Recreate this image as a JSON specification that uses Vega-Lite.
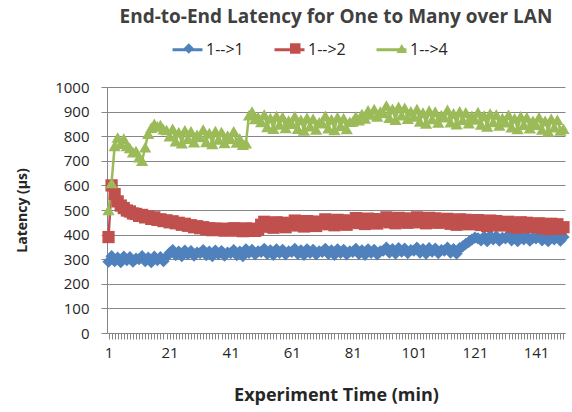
{
  "$schema": "https://vega.github.io/schema/vega-lite/v6.json",
  "width": 458,
  "height": 246,
  "autosize": "none",
  "padding": {"left": 107, "top": 87, "right": 7, "bottom": 79},
  "background": "white",
  "title": {"text": "End-to-End  Latency for One to Many  over LAN", "anchor": "middle", "frame": "group", "offset": 6, "font": "Open Sans", "fontSize": 19, "fontWeight": "bold", "color": "#404040"},
  "config": {"view": {"stroke": null}},
  "data": {"values": [
{"minute":1,"series":"1-->1","latency":290},{"minute":2,"series":"1-->1","latency":312},{"minute":3,"series":"1-->1","latency":292},{"minute":4,"series":"1-->1","latency":306},{"minute":5,"series":"1-->1","latency":288},{"minute":6,"series":"1-->1","latency":310},{"minute":7,"series":"1-->1","latency":296},{"minute":8,"series":"1-->1","latency":308},{"minute":9,"series":"1-->1","latency":290},{"minute":10,"series":"1-->1","latency":302},
{"minute":11,"series":"1-->1","latency":300},{"minute":12,"series":"1-->1","latency":312},{"minute":13,"series":"1-->1","latency":292},{"minute":14,"series":"1-->1","latency":306},{"minute":15,"series":"1-->1","latency":288},{"minute":16,"series":"1-->1","latency":310},{"minute":17,"series":"1-->1","latency":296},{"minute":18,"series":"1-->1","latency":308},{"minute":19,"series":"1-->1","latency":292},{"minute":20,"series":"1-->1","latency":310},
{"minute":21,"series":"1-->1","latency":325},{"minute":22,"series":"1-->1","latency":337},{"minute":23,"series":"1-->1","latency":317},{"minute":24,"series":"1-->1","latency":331},{"minute":25,"series":"1-->1","latency":313},{"minute":26,"series":"1-->1","latency":335},{"minute":27,"series":"1-->1","latency":321},{"minute":28,"series":"1-->1","latency":333},{"minute":29,"series":"1-->1","latency":315},{"minute":30,"series":"1-->1","latency":327},
{"minute":31,"series":"1-->1","latency":325},{"minute":32,"series":"1-->1","latency":337},{"minute":33,"series":"1-->1","latency":317},{"minute":34,"series":"1-->1","latency":331},{"minute":35,"series":"1-->1","latency":313},{"minute":36,"series":"1-->1","latency":335},{"minute":37,"series":"1-->1","latency":321},{"minute":38,"series":"1-->1","latency":333},{"minute":39,"series":"1-->1","latency":315},{"minute":40,"series":"1-->1","latency":327},
{"minute":41,"series":"1-->1","latency":325},{"minute":42,"series":"1-->1","latency":337},{"minute":43,"series":"1-->1","latency":317},{"minute":44,"series":"1-->1","latency":331},{"minute":45,"series":"1-->1","latency":313},{"minute":46,"series":"1-->1","latency":340},{"minute":47,"series":"1-->1","latency":326},{"minute":48,"series":"1-->1","latency":338},{"minute":49,"series":"1-->1","latency":320},{"minute":50,"series":"1-->1","latency":332},
{"minute":51,"series":"1-->1","latency":330},{"minute":52,"series":"1-->1","latency":342},{"minute":53,"series":"1-->1","latency":322},{"minute":54,"series":"1-->1","latency":336},{"minute":55,"series":"1-->1","latency":318},{"minute":56,"series":"1-->1","latency":340},{"minute":57,"series":"1-->1","latency":326},{"minute":58,"series":"1-->1","latency":338},{"minute":59,"series":"1-->1","latency":320},{"minute":60,"series":"1-->1","latency":332},
{"minute":61,"series":"1-->1","latency":330},{"minute":62,"series":"1-->1","latency":342},{"minute":63,"series":"1-->1","latency":322},{"minute":64,"series":"1-->1","latency":336},{"minute":65,"series":"1-->1","latency":318},{"minute":66,"series":"1-->1","latency":340},{"minute":67,"series":"1-->1","latency":326},{"minute":68,"series":"1-->1","latency":338},{"minute":69,"series":"1-->1","latency":320},{"minute":70,"series":"1-->1","latency":332},
{"minute":71,"series":"1-->1","latency":330},{"minute":72,"series":"1-->1","latency":342},{"minute":73,"series":"1-->1","latency":322},{"minute":74,"series":"1-->1","latency":336},{"minute":75,"series":"1-->1","latency":318},{"minute":76,"series":"1-->1","latency":340},{"minute":77,"series":"1-->1","latency":326},{"minute":78,"series":"1-->1","latency":338},{"minute":79,"series":"1-->1","latency":320},{"minute":80,"series":"1-->1","latency":332},
{"minute":81,"series":"1-->1","latency":330},{"minute":82,"series":"1-->1","latency":342},{"minute":83,"series":"1-->1","latency":322},{"minute":84,"series":"1-->1","latency":336},{"minute":85,"series":"1-->1","latency":318},{"minute":86,"series":"1-->1","latency":340},{"minute":87,"series":"1-->1","latency":326},{"minute":88,"series":"1-->1","latency":338},{"minute":89,"series":"1-->1","latency":320},{"minute":90,"series":"1-->1","latency":332},
{"minute":91,"series":"1-->1","latency":335},{"minute":92,"series":"1-->1","latency":347},{"minute":93,"series":"1-->1","latency":327},{"minute":94,"series":"1-->1","latency":341},{"minute":95,"series":"1-->1","latency":323},{"minute":96,"series":"1-->1","latency":345},{"minute":97,"series":"1-->1","latency":331},{"minute":98,"series":"1-->1","latency":343},{"minute":99,"series":"1-->1","latency":325},{"minute":100,"series":"1-->1","latency":337},
{"minute":101,"series":"1-->1","latency":335},{"minute":102,"series":"1-->1","latency":347},{"minute":103,"series":"1-->1","latency":327},{"minute":104,"series":"1-->1","latency":341},{"minute":105,"series":"1-->1","latency":323},{"minute":106,"series":"1-->1","latency":345},{"minute":107,"series":"1-->1","latency":331},{"minute":108,"series":"1-->1","latency":343},{"minute":109,"series":"1-->1","latency":325},{"minute":110,"series":"1-->1","latency":337},
{"minute":111,"series":"1-->1","latency":335},{"minute":112,"series":"1-->1","latency":347},{"minute":113,"series":"1-->1","latency":327},{"minute":114,"series":"1-->1","latency":341},{"minute":115,"series":"1-->1","latency":323},{"minute":116,"series":"1-->1","latency":345},{"minute":117,"series":"1-->1","latency":352},{"minute":118,"series":"1-->1","latency":362},{"minute":119,"series":"1-->1","latency":370},{"minute":120,"series":"1-->1","latency":380},
{"minute":121,"series":"1-->1","latency":388},{"minute":122,"series":"1-->1","latency":385},{"minute":123,"series":"1-->1","latency":377},{"minute":124,"series":"1-->1","latency":391},{"minute":125,"series":"1-->1","latency":373},{"minute":126,"series":"1-->1","latency":395},{"minute":127,"series":"1-->1","latency":381},{"minute":128,"series":"1-->1","latency":393},{"minute":129,"series":"1-->1","latency":375},{"minute":130,"series":"1-->1","latency":387},
{"minute":131,"series":"1-->1","latency":385},{"minute":132,"series":"1-->1","latency":397},{"minute":133,"series":"1-->1","latency":377},{"minute":134,"series":"1-->1","latency":391},{"minute":135,"series":"1-->1","latency":373},{"minute":136,"series":"1-->1","latency":395},{"minute":137,"series":"1-->1","latency":381},{"minute":138,"series":"1-->1","latency":393},{"minute":139,"series":"1-->1","latency":375},{"minute":140,"series":"1-->1","latency":387},
{"minute":141,"series":"1-->1","latency":385},{"minute":142,"series":"1-->1","latency":397},{"minute":143,"series":"1-->1","latency":377},{"minute":144,"series":"1-->1","latency":391},{"minute":145,"series":"1-->1","latency":373},{"minute":146,"series":"1-->1","latency":395},{"minute":147,"series":"1-->1","latency":381},{"minute":148,"series":"1-->1","latency":393},{"minute":149,"series":"1-->1","latency":375},{"minute":150,"series":"1-->1","latency":390},
{"minute":1,"series":"1-->2","latency":390},{"minute":2,"series":"1-->2","latency":600},{"minute":3,"series":"1-->2","latency":565},{"minute":4,"series":"1-->2","latency":535},{"minute":5,"series":"1-->2","latency":518},{"minute":6,"series":"1-->2","latency":508},{"minute":7,"series":"1-->2","latency":498},{"minute":8,"series":"1-->2","latency":494},{"minute":9,"series":"1-->2","latency":486},{"minute":10,"series":"1-->2","latency":484},
{"minute":11,"series":"1-->2","latency":476},{"minute":12,"series":"1-->2","latency":480},{"minute":13,"series":"1-->2","latency":470},{"minute":14,"series":"1-->2","latency":474},{"minute":15,"series":"1-->2","latency":464},{"minute":16,"series":"1-->2","latency":470},{"minute":17,"series":"1-->2","latency":460},{"minute":18,"series":"1-->2","latency":462},{"minute":19,"series":"1-->2","latency":455},{"minute":20,"series":"1-->2","latency":458},
{"minute":21,"series":"1-->2","latency":450},{"minute":22,"series":"1-->2","latency":454},{"minute":23,"series":"1-->2","latency":446},{"minute":24,"series":"1-->2","latency":448},{"minute":25,"series":"1-->2","latency":440},{"minute":26,"series":"1-->2","latency":444},{"minute":27,"series":"1-->2","latency":436},{"minute":28,"series":"1-->2","latency":438},{"minute":29,"series":"1-->2","latency":430},{"minute":30,"series":"1-->2","latency":434},
{"minute":31,"series":"1-->2","latency":426},{"minute":32,"series":"1-->2","latency":430},{"minute":33,"series":"1-->2","latency":422},{"minute":34,"series":"1-->2","latency":426},{"minute":35,"series":"1-->2","latency":418},{"minute":36,"series":"1-->2","latency":424},{"minute":37,"series":"1-->2","latency":420},{"minute":38,"series":"1-->2","latency":424},{"minute":39,"series":"1-->2","latency":416},{"minute":40,"series":"1-->2","latency":422},
{"minute":41,"series":"1-->2","latency":420},{"minute":42,"series":"1-->2","latency":426},{"minute":43,"series":"1-->2","latency":416},{"minute":44,"series":"1-->2","latency":423},{"minute":45,"series":"1-->2","latency":414},{"minute":46,"series":"1-->2","latency":425},{"minute":47,"series":"1-->2","latency":418},{"minute":48,"series":"1-->2","latency":424},{"minute":49,"series":"1-->2","latency":415},{"minute":50,"series":"1-->2","latency":421},
{"minute":51,"series":"1-->2","latency":440},{"minute":52,"series":"1-->2","latency":452},{"minute":53,"series":"1-->2","latency":432},{"minute":54,"series":"1-->2","latency":446},{"minute":55,"series":"1-->2","latency":428},{"minute":56,"series":"1-->2","latency":450},{"minute":57,"series":"1-->2","latency":436},{"minute":58,"series":"1-->2","latency":448},{"minute":59,"series":"1-->2","latency":430},{"minute":60,"series":"1-->2","latency":442},
{"minute":61,"series":"1-->2","latency":445},{"minute":62,"series":"1-->2","latency":457},{"minute":63,"series":"1-->2","latency":437},{"minute":64,"series":"1-->2","latency":451},{"minute":65,"series":"1-->2","latency":433},{"minute":66,"series":"1-->2","latency":455},{"minute":67,"series":"1-->2","latency":441},{"minute":68,"series":"1-->2","latency":453},{"minute":69,"series":"1-->2","latency":435},{"minute":70,"series":"1-->2","latency":447},
{"minute":71,"series":"1-->2","latency":450},{"minute":72,"series":"1-->2","latency":462},{"minute":73,"series":"1-->2","latency":442},{"minute":74,"series":"1-->2","latency":456},{"minute":75,"series":"1-->2","latency":438},{"minute":76,"series":"1-->2","latency":460},{"minute":77,"series":"1-->2","latency":446},{"minute":78,"series":"1-->2","latency":458},{"minute":79,"series":"1-->2","latency":440},{"minute":80,"series":"1-->2","latency":452},
{"minute":81,"series":"1-->2","latency":455},{"minute":82,"series":"1-->2","latency":467},{"minute":83,"series":"1-->2","latency":447},{"minute":84,"series":"1-->2","latency":461},{"minute":85,"series":"1-->2","latency":443},{"minute":86,"series":"1-->2","latency":465},{"minute":87,"series":"1-->2","latency":451},{"minute":88,"series":"1-->2","latency":463},{"minute":89,"series":"1-->2","latency":445},{"minute":90,"series":"1-->2","latency":457},
{"minute":91,"series":"1-->2","latency":458},{"minute":92,"series":"1-->2","latency":470},{"minute":93,"series":"1-->2","latency":450},{"minute":94,"series":"1-->2","latency":464},{"minute":95,"series":"1-->2","latency":446},{"minute":96,"series":"1-->2","latency":468},{"minute":97,"series":"1-->2","latency":454},{"minute":98,"series":"1-->2","latency":466},{"minute":99,"series":"1-->2","latency":448},{"minute":100,"series":"1-->2","latency":460},
{"minute":101,"series":"1-->2","latency":458},{"minute":102,"series":"1-->2","latency":470},{"minute":103,"series":"1-->2","latency":450},{"minute":104,"series":"1-->2","latency":464},{"minute":105,"series":"1-->2","latency":446},{"minute":106,"series":"1-->2","latency":468},{"minute":107,"series":"1-->2","latency":454},{"minute":108,"series":"1-->2","latency":466},{"minute":109,"series":"1-->2","latency":448},{"minute":110,"series":"1-->2","latency":460},
{"minute":111,"series":"1-->2","latency":452},{"minute":112,"series":"1-->2","latency":464},{"minute":113,"series":"1-->2","latency":444},{"minute":114,"series":"1-->2","latency":458},{"minute":115,"series":"1-->2","latency":440},{"minute":116,"series":"1-->2","latency":462},{"minute":117,"series":"1-->2","latency":448},{"minute":118,"series":"1-->2","latency":460},{"minute":119,"series":"1-->2","latency":442},{"minute":120,"series":"1-->2","latency":454},
{"minute":121,"series":"1-->2","latency":447},{"minute":122,"series":"1-->2","latency":459},{"minute":123,"series":"1-->2","latency":439},{"minute":124,"series":"1-->2","latency":453},{"minute":125,"series":"1-->2","latency":435},{"minute":126,"series":"1-->2","latency":457},{"minute":127,"series":"1-->2","latency":443},{"minute":128,"series":"1-->2","latency":455},{"minute":129,"series":"1-->2","latency":437},{"minute":130,"series":"1-->2","latency":449},
{"minute":131,"series":"1-->2","latency":440},{"minute":132,"series":"1-->2","latency":452},{"minute":133,"series":"1-->2","latency":432},{"minute":134,"series":"1-->2","latency":446},{"minute":135,"series":"1-->2","latency":428},{"minute":136,"series":"1-->2","latency":450},{"minute":137,"series":"1-->2","latency":436},{"minute":138,"series":"1-->2","latency":448},{"minute":139,"series":"1-->2","latency":430},{"minute":140,"series":"1-->2","latency":442},
{"minute":141,"series":"1-->2","latency":434},{"minute":142,"series":"1-->2","latency":446},{"minute":143,"series":"1-->2","latency":426},{"minute":144,"series":"1-->2","latency":440},{"minute":145,"series":"1-->2","latency":422},{"minute":146,"series":"1-->2","latency":444},{"minute":147,"series":"1-->2","latency":430},{"minute":148,"series":"1-->2","latency":442},{"minute":149,"series":"1-->2","latency":424},{"minute":150,"series":"1-->2","latency":430},
{"minute":1,"series":"1-->4","latency":500},{"minute":2,"series":"1-->4","latency":610},{"minute":3,"series":"1-->4","latency":760},{"minute":4,"series":"1-->4","latency":795},{"minute":5,"series":"1-->4","latency":770},{"minute":6,"series":"1-->4","latency":790},{"minute":7,"series":"1-->4","latency":760},{"minute":8,"series":"1-->4","latency":752},{"minute":9,"series":"1-->4","latency":735},{"minute":10,"series":"1-->4","latency":740},
{"minute":11,"series":"1-->4","latency":715},{"minute":12,"series":"1-->4","latency":700},{"minute":13,"series":"1-->4","latency":755},{"minute":14,"series":"1-->4","latency":810},{"minute":15,"series":"1-->4","latency":835},{"minute":16,"series":"1-->4","latency":850},{"minute":17,"series":"1-->4","latency":840},{"minute":18,"series":"1-->4","latency":845},{"minute":19,"series":"1-->4","latency":828},{"minute":20,"series":"1-->4","latency":825},
{"minute":21,"series":"1-->4","latency":800},{"minute":22,"series":"1-->4","latency":830},{"minute":23,"series":"1-->4","latency":780},{"minute":24,"series":"1-->4","latency":816},{"minute":25,"series":"1-->4","latency":772},{"minute":26,"series":"1-->4","latency":824},{"minute":27,"series":"1-->4","latency":790},{"minute":28,"series":"1-->4","latency":820},{"minute":29,"series":"1-->4","latency":776},{"minute":30,"series":"1-->4","latency":806},
{"minute":31,"series":"1-->4","latency":797},{"minute":32,"series":"1-->4","latency":827},{"minute":33,"series":"1-->4","latency":777},{"minute":34,"series":"1-->4","latency":813},{"minute":35,"series":"1-->4","latency":769},{"minute":36,"series":"1-->4","latency":821},{"minute":37,"series":"1-->4","latency":787},{"minute":38,"series":"1-->4","latency":817},{"minute":39,"series":"1-->4","latency":773},{"minute":40,"series":"1-->4","latency":803},
{"minute":41,"series":"1-->4","latency":790},{"minute":42,"series":"1-->4","latency":820},{"minute":43,"series":"1-->4","latency":775},{"minute":44,"series":"1-->4","latency":790},{"minute":45,"series":"1-->4","latency":765},{"minute":46,"series":"1-->4","latency":772},{"minute":47,"series":"1-->4","latency":885},{"minute":48,"series":"1-->4","latency":900},{"minute":49,"series":"1-->4","latency":870},{"minute":50,"series":"1-->4","latency":878},
{"minute":51,"series":"1-->4","latency":858},{"minute":52,"series":"1-->4","latency":888},{"minute":53,"series":"1-->4","latency":838},{"minute":54,"series":"1-->4","latency":874},{"minute":55,"series":"1-->4","latency":830},{"minute":56,"series":"1-->4","latency":882},{"minute":57,"series":"1-->4","latency":848},{"minute":58,"series":"1-->4","latency":878},{"minute":59,"series":"1-->4","latency":834},{"minute":60,"series":"1-->4","latency":864},
{"minute":61,"series":"1-->4","latency":851},{"minute":62,"series":"1-->4","latency":881},{"minute":63,"series":"1-->4","latency":831},{"minute":64,"series":"1-->4","latency":867},{"minute":65,"series":"1-->4","latency":823},{"minute":66,"series":"1-->4","latency":875},{"minute":67,"series":"1-->4","latency":841},{"minute":68,"series":"1-->4","latency":871},{"minute":69,"series":"1-->4","latency":827},{"minute":70,"series":"1-->4","latency":857},
{"minute":71,"series":"1-->4","latency":853},{"minute":72,"series":"1-->4","latency":883},{"minute":73,"series":"1-->4","latency":833},{"minute":74,"series":"1-->4","latency":869},{"minute":75,"series":"1-->4","latency":825},{"minute":76,"series":"1-->4","latency":877},{"minute":77,"series":"1-->4","latency":843},{"minute":78,"series":"1-->4","latency":873},{"minute":79,"series":"1-->4","latency":829},{"minute":80,"series":"1-->4","latency":859},
{"minute":81,"series":"1-->4","latency":860},{"minute":82,"series":"1-->4","latency":880},{"minute":83,"series":"1-->4","latency":865},{"minute":84,"series":"1-->4","latency":890},{"minute":85,"series":"1-->4","latency":872},{"minute":86,"series":"1-->4","latency":905},{"minute":87,"series":"1-->4","latency":888},{"minute":88,"series":"1-->4","latency":910},{"minute":89,"series":"1-->4","latency":880},{"minute":90,"series":"1-->4","latency":900},
{"minute":91,"series":"1-->4","latency":895},{"minute":92,"series":"1-->4","latency":925},{"minute":93,"series":"1-->4","latency":875},{"minute":94,"series":"1-->4","latency":911},{"minute":95,"series":"1-->4","latency":867},{"minute":96,"series":"1-->4","latency":919},{"minute":97,"series":"1-->4","latency":885},{"minute":98,"series":"1-->4","latency":915},{"minute":99,"series":"1-->4","latency":871},{"minute":100,"series":"1-->4","latency":901},
{"minute":101,"series":"1-->4","latency":880},{"minute":102,"series":"1-->4","latency":910},{"minute":103,"series":"1-->4","latency":860},{"minute":104,"series":"1-->4","latency":896},{"minute":105,"series":"1-->4","latency":852},{"minute":106,"series":"1-->4","latency":904},{"minute":107,"series":"1-->4","latency":870},{"minute":108,"series":"1-->4","latency":900},{"minute":109,"series":"1-->4","latency":856},{"minute":110,"series":"1-->4","latency":886},
{"minute":111,"series":"1-->4","latency":877},{"minute":112,"series":"1-->4","latency":907},{"minute":113,"series":"1-->4","latency":857},{"minute":114,"series":"1-->4","latency":893},{"minute":115,"series":"1-->4","latency":849},{"minute":116,"series":"1-->4","latency":901},{"minute":117,"series":"1-->4","latency":867},{"minute":118,"series":"1-->4","latency":897},{"minute":119,"series":"1-->4","latency":853},{"minute":120,"series":"1-->4","latency":883},
{"minute":121,"series":"1-->4","latency":868},{"minute":122,"series":"1-->4","latency":898},{"minute":123,"series":"1-->4","latency":848},{"minute":124,"series":"1-->4","latency":884},{"minute":125,"series":"1-->4","latency":840},{"minute":126,"series":"1-->4","latency":892},{"minute":127,"series":"1-->4","latency":858},{"minute":128,"series":"1-->4","latency":888},{"minute":129,"series":"1-->4","latency":844},{"minute":130,"series":"1-->4","latency":874},
{"minute":131,"series":"1-->4","latency":857},{"minute":132,"series":"1-->4","latency":887},{"minute":133,"series":"1-->4","latency":837},{"minute":134,"series":"1-->4","latency":873},{"minute":135,"series":"1-->4","latency":829},{"minute":136,"series":"1-->4","latency":881},{"minute":137,"series":"1-->4","latency":847},{"minute":138,"series":"1-->4","latency":877},{"minute":139,"series":"1-->4","latency":833},{"minute":140,"series":"1-->4","latency":863},
{"minute":141,"series":"1-->4","latency":847},{"minute":142,"series":"1-->4","latency":877},{"minute":143,"series":"1-->4","latency":827},{"minute":144,"series":"1-->4","latency":863},{"minute":145,"series":"1-->4","latency":819},{"minute":146,"series":"1-->4","latency":871},{"minute":147,"series":"1-->4","latency":837},{"minute":148,"series":"1-->4","latency":867},{"minute":149,"series":"1-->4","latency":823},{"minute":150,"series":"1-->4","latency":830}
  ]},
  "encoding": {
    "x": {"field": "minute", "type": "quantitative",
      "scale": {"domain": [0.5, 150.5], "nice": false, "zero": false},
      "axis": {"title": "Experiment Time (min)", "grid": false,
        "values": [1,2,3,4,5,6,7,8,9,10,11,12,13,14,15,16,17,18,19,20,21,22,23,24,25,26,27,28,29,30,31,32,33,34,35,36,37,38,39,40,41,42,43,44,45,46,47,48,49,50,51,52,53,54,55,56,57,58,59,60,61,62,63,64,65,66,67,68,69,70,71,72,73,74,75,76,77,78,79,80,81,82,83,84,85,86,87,88,89,90,91,92,93,94,95,96,97,98,99,100,101,102,103,104,105,106,107,108,109,110,111,112,113,114,115,116,117,118,119,120,121,122,123,124,125,126,127,128,129,130,131,132,133,134,135,136,137,138,139,140,141,142,143,144,145,146,147,148,149,150],
        "labelExpr": "(datum.value - 1) % 20 === 0 ? datum.label : ''",
        "labelOverlap": false, "labelFlush": false,
        "labelFont": "Open Sans", "labelFontSize": 15, "labelColor": "#262626", "labelPadding": 6,
        "tickColor": "#868686", "tickSize": 6, "domainColor": "#868686",
        "titleFont": "Open Sans", "titleFontSize": 18, "titleFontWeight": "bold", "titleColor": "#262626", "titlePadding": 26}},
    "y": {"field": "latency", "type": "quantitative",
      "scale": {"domain": [0, 1000], "nice": false},
      "axis": {"title": "Latency (µs)", "values": [0,100,200,300,400,500,600,700,800,900,1000], "format": "d",
        "grid": true, "gridColor": "#868686", "gridWidth": 1,
        "labelFont": "Open Sans", "labelFontSize": 15, "labelColor": "#262626", "labelPadding": 12,
        "tickColor": "#868686", "tickSize": 6, "domainColor": "#868686",
        "titleFont": "Open Sans", "titleFontSize": 14, "titleFontWeight": "bold", "titleColor": "#262626", "titlePadding": 25}}
  },
  "layer": [
    {"mark": {"type": "line", "strokeWidth": 2.5},
     "encoding": {
       "stroke": {"field": "series", "type": "nominal",
         "scale": {"domain": ["1-->1", "1-->2", "1-->4"], "range": ["#4F81BD", "#C0504D", "#9BBB59"]},
         "legend": {"orient": "none", "legendX": 64, "legendY": -54, "direction": "horizontal", "title": null,
           "symbolType": "stroke", "symbolSize": 900, "symbolStrokeWidth": 3,
           "labelFont": "Open Sans", "labelFontSize": 16, "labelColor": "#262626",
           "labelOffset": 2, "columnPadding": 24, "padding": 0}}}},
    {"mark": {"type": "point", "filled": true, "opacity": 1, "size": 150},
     "encoding": {
       "shape": {"field": "series", "type": "nominal", "scale": {"range": ["diamond", "square", "triangle-up"]}},
       "color": {"field": "series", "type": "nominal",
         "scale": {"range": ["#4F81BD", "#C0504D", "#9BBB59"]},
         "legend": {"orient": "none", "legendX": 73.75, "legendY": -46.5, "direction": "horizontal", "title": null,
           "symbolSize": 110, "symbolStrokeWidth": 0,
           "labelExpr": "''", "labelFontSize": 16,
           "labelOffset": 0, "columnPadding": 90.5, "padding": 0}}}}
  ]
}
